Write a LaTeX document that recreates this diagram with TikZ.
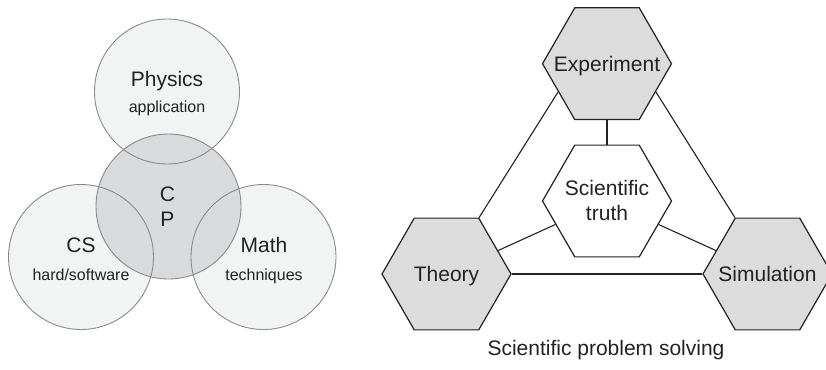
\documentclass[tikz,border=0pt]{standalone}
\usepackage{fontspec}
\setmainfont{Liberation Sans}
\usetikzlibrary{shapes.geometric}
\definecolor{outerfill}{HTML}{F2F3F3}
\definecolor{cpfill}{HTML}{D9DADC}
\definecolor{circline}{HTML}{8A8A8A}
\definecolor{hexfill}{HTML}{DCDCDD}
\definecolor{ink}{HTML}{222222}
\tikzset{
  venn/.style={circle, minimum size=145bp, inner sep=0pt, outer sep=0pt},
  big/.style={font=\fontsize{21bp}{25bp}\selectfont, text=ink, anchor=base, inner sep=0pt},
  small/.style={font=\fontsize{16bp}{19bp}\selectfont, text=ink, anchor=base, inner sep=0pt},
  hexa/.style={regular polygon, regular polygon sides=6, minimum size=129bp, inner sep=0pt,
     draw=ink, line width=1.2bp},
  link/.style={draw=ink, line width=1.1bp}
}
\begin{document}
\begin{tikzpicture}[x=1bp,y=-1bp]
\useasboundingbox (0,0) rectangle (826,369);
% Venn part
\node[venn, fill=outerfill] (phys) at (167,91.5) {};
\node[venn, fill=outerfill] (cs) at (81,257) {};
\node[venn, fill=outerfill] (math) at (263.5,257) {};
\node[venn, fill=cpfill] (cp) at (168.5,206.5) {};
\foreach \c in {phys,cs,math,cp}
  \draw[circline, line width=0.9bp] (\c.center) circle[radius=72.5];
\node[big] (tphys) at (167,86) {Physics};
\node[small] (tapp) at (167,112.5) {application};
\node[big] (tc) at (167.5,201.5) {C};
\node[big] (tp) at (167.5,226) {P};
\node[big] (tcs) at (81,252) {CS};
\node[small] (thw) at (81,280) {hard/software};
\node[big] (tmath) at (264,252) {Math};
\node[small] (ttech) at (264,280) {techniques};
% Hexagon part
\node[hexa, fill=hexfill] (exp) at (607,63.7) {};
\node[hexa, fill=white] (truth) at (607,201) {};
\node[hexa, fill=hexfill] (theo) at (446.5,274) {};
\node[hexa, fill=hexfill] (sim) at (767.5,274) {};
\node[big] (lexp) at (607,71) {Experiment};
\node[big] (ltr1) at (607,195) {Scientific};
\node[big] (ltr2) at (607,220.7) {truth};
\node[big] (ltheo) at (446.5,281.7) {Theory};
\node[big] (lsim) at (767.5,281.7) {Simulation};
\node[big] (caption) at (606,355) {Scientific problem solving};
\draw[link] (exp.210) -- (theo.60);
\draw[link] (exp.330) -- (sim.120);
\draw[link] (theo.0) -- (sim.180);
\draw[link] (exp.270) -- (truth.90);
\draw[link] (truth) -- (theo);
\draw[link] (truth) -- (sim);
\end{tikzpicture}
\end{document}
